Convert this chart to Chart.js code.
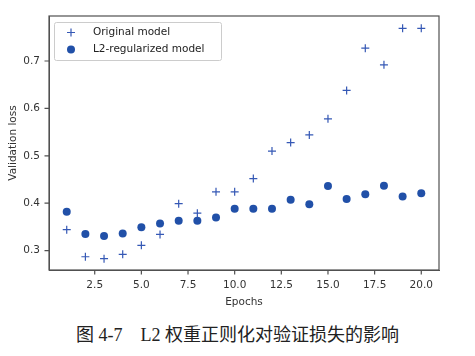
<!DOCTYPE html>
<html>
<head>
<meta charset="utf-8">
<script src="https://cdn.jsdelivr.net/npm/chart.js@4/dist/chart.umd.min.js"></script>
<style>
  html, body { margin: 0; padding: 0; background: #fff; }
  #wrap { position: relative; width: 475px; height: 356px; }
  #box { position: absolute; left: 0; top: 0; width: 475px; height: 309px; }
  #caption { position: absolute; left: 0; top: 320px; width: 475px; text-align: center;
    font-family: "Liberation Serif", "Noto Sans CJK SC", serif; font-size: 18px; color: #222; white-space: pre; }
</style>
</head>
<body>
<div id="wrap">
  <div id="box"><canvas id="c"></canvas></div>
  <div id="caption">图 4-7    L2 权重正则化对验证损失的影响</div>
</div>
<script>
const epochs = [1,2,3,4,5,6,7,8,9,10,11,12,13,14,15,16,17,18,19,20];
const originalLoss = [0.344,0.287,0.283,0.292,0.311,0.334,0.399,0.379,0.424,0.424,0.452,0.510,0.528,0.544,0.578,0.638,0.727,0.692,0.769,0.769];
const l2Loss = [0.382,0.335,0.331,0.336,0.349,0.357,0.363,0.363,0.370,0.388,0.388,0.388,0.407,0.398,0.436,0.409,0.419,0.437,0.414,0.421];
const xTicks = [2.5,5.0,7.5,10.0,12.5,15.0,17.5,20.0];
const yTicks = [0.3,0.4,0.5,0.6,0.7];
const seriesNames = ['Original model', 'L2-regularized model'];

const crossColor = '#3558b5';
const dotColor = '#2150a8';
const axisColor = '#505050';

const toPts = (ys) => epochs.map((x,i) => ({x: x, y: ys[i]}));

const framePlugin = {
  id: 'axesframe',
  afterDraw(chart) {
    const a = chart.chartArea, ctx = chart.ctx;
    ctx.save();
    ctx.strokeStyle = axisColor;
    ctx.lineWidth = 1.2;
    ctx.strokeRect(a.left, a.top, a.right - a.left, a.bottom - a.top);
    const xs = chart.scales.x, ys = chart.scales.y;
    ctx.beginPath();
    xTicks.forEach(v => { const px = xs.getPixelForValue(v); ctx.moveTo(px, a.bottom); ctx.lineTo(px, a.bottom + 4.5); });
    yTicks.forEach(v => { const py = ys.getPixelForValue(v); ctx.moveTo(a.left, py); ctx.lineTo(a.left - 4.5, py); });
    ctx.stroke();
    // legend
    const bx = 54.5, by = 22.5, bw = 167, bh = 38;
    ctx.strokeStyle = '#ccc';
    ctx.lineWidth = 1;
    ctx.fillStyle = 'rgba(255,255,255,0.85)';
    ctx.beginPath();
    if (ctx.roundRect) ctx.roundRect(bx, by, bw, bh, 2); else ctx.rect(bx, by, bw, bh);
    ctx.fill(); ctx.stroke();
    ctx.strokeStyle = crossColor; ctx.lineWidth = 1.2;
    ctx.beginPath();
    ctx.moveTo(71 - 4, 32.5); ctx.lineTo(71 + 4, 32.5);
    ctx.moveTo(71, 28.5); ctx.lineTo(71, 36.5);
    ctx.stroke();
    ctx.fillStyle = dotColor;
    ctx.beginPath(); ctx.arc(71, 49.5, 4, 0, Math.PI * 2); ctx.fill();
    ctx.fillStyle = '#222';
    ctx.font = '10.5px "DejaVu Sans"';
    ctx.textBaseline = 'middle';
    ctx.textAlign = 'left';
    ctx.fillText(seriesNames[0], 93, 32.5);
    ctx.fillText(seriesNames[1], 93, 49.5);
    ctx.restore();
  }
};

new Chart(document.getElementById('c'), {
  type: 'scatter',
  data: {
    datasets: [
      { label: seriesNames[0], data: toPts(originalLoss), pointStyle: 'cross', pointRadius: 4,
        borderColor: crossColor, backgroundColor: crossColor, borderWidth: 1.2 },
      { label: seriesNames[1], data: toPts(l2Loss), pointStyle: 'circle', pointRadius: 4,
        borderColor: dotColor, backgroundColor: dotColor, borderWidth: 0 }
    ]
  },
  options: {
    responsive: true, maintainAspectRatio: false, animation: false,
    layout: { padding: { left: 7, top: 16, right: 36, bottom: 0 } },
    plugins: {
      legend: { display: false },
      tooltip: { enabled: false }
    },
    scales: {
      x: {
        type: 'linear', min: 0.05, max: 20.95,
        afterBuildTicks: (s) => { s.ticks = xTicks.map(v => ({value: v})); },
        afterFit: (s) => { s.height = 39; },
        grid: { display: false, drawTicks: false },
        border: { display: true, color: axisColor },
        ticks: { color: '#333', font: { family: 'DejaVu Sans', size: 10.5 }, padding: 9,
          maxRotation: 0, autoSkip: false, callback: (v) => Number(v).toFixed(1) },
        title: { display: true, text: 'Epochs', color: '#333', font: { family: 'DejaVu Sans', size: 10.5 }, padding: { top: 0, bottom: 0 } }
      },
      y: {
        type: 'linear', min: 0.259, max: 0.795,
        afterBuildTicks: (s) => { s.ticks = yTicks.map(v => ({value: v})); },
        afterFit: (s) => { s.width = 42; },
        grid: { display: false, drawTicks: false },
        border: { display: true, color: axisColor },
        ticks: { color: '#333', font: { family: 'DejaVu Sans', size: 10.5 }, padding: 9,
          autoSkip: false, callback: (v) => Number(v).toFixed(1) },
        title: { display: true, text: 'Validation loss', color: '#333', font: { family: 'DejaVu Sans', size: 10.5 }, padding: { top: 0, bottom: 0 } }
      }
    }
  },
  plugins: [framePlugin]
});
</script>
</body>
</html>
